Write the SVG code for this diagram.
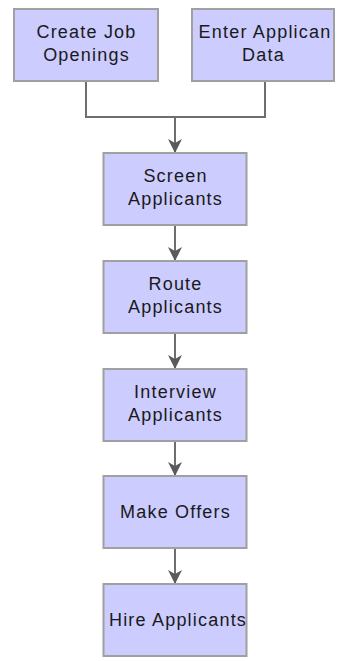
<svg xmlns="http://www.w3.org/2000/svg" width="338" height="661" viewBox="0 0 338 661">
<style>
.box{fill:#ccccff;stroke:#a0a0a0;stroke-width:2}
.lbl{font-family:"Liberation Sans",Arial,sans-serif;font-size:18px;letter-spacing:1.2px;fill:#1a1a1a;text-anchor:middle}
.con{fill:none;stroke:#6e6e6e;stroke-width:2}
.head{fill:#5a5a5a}
</style>
<defs>
<polygon id="ah" class="head" points="-7,-14 0,-10 7,-14 0,0"/>
<clipPath id="c2"><rect x="192" y="9" width="142" height="72"/></clipPath>
</defs>
<rect width="338" height="661" fill="#ffffff"/>
<g id="connectors">
<path class="con" d="M86,81 V117 H265 V81"/>
<path class="con" d="M175,117 V152"/>
<path class="con" d="M175,225 V260"/>
<path class="con" d="M175,333 V368"/>
<path class="con" d="M175,441 V475"/>
<path class="con" d="M175,548 V583"/>
<use href="#ah" x="175" y="153"/>
<use href="#ah" x="175" y="261"/>
<use href="#ah" x="175" y="369"/>
<use href="#ah" x="175" y="476"/>
<use href="#ah" x="175" y="584"/>
</g>
<g id="create-job-openings">
<rect class="box" x="14" y="9" width="144" height="72"/>
<text class="lbl" x="86.5" y="37.5">Create Job</text>
<text class="lbl" x="86.5" y="61">Openings</text>
</g>
<g id="enter-applicant-data">
<rect class="box" x="192" y="9" width="142" height="72"/>
<text class="lbl" x="265" y="37.5" clip-path="url(#c2)">Enter Applican</text>
<text class="lbl" x="263.5" y="61">Data</text>
</g>
<g id="screen-applicants">
<rect class="box" x="103.5" y="153" width="143" height="72"/>
<text class="lbl" x="175.5" y="181.5">Screen</text>
<text class="lbl" x="175.5" y="204.5">Applicants</text>
</g>
<g id="route-applicants">
<rect class="box" x="103.5" y="261" width="143" height="72"/>
<text class="lbl" x="175.5" y="289.5">Route</text>
<text class="lbl" x="175.5" y="312.5">Applicants</text>
</g>
<g id="interview-applicants">
<rect class="box" x="103.5" y="369" width="143" height="72"/>
<text class="lbl" x="175.5" y="397.5">Interview</text>
<text class="lbl" x="175.5" y="420.5">Applicants</text>
</g>
<g id="make-offers">
<rect class="box" x="103.5" y="476" width="143" height="72"/>
<text class="lbl" x="175.5" y="518">Make Offers</text>
</g>
<g id="hire-applicants">
<rect class="box" x="103.5" y="584" width="143" height="72"/>
<text class="lbl" x="178" y="626">Hire Applicants</text>
</g>
</svg>
